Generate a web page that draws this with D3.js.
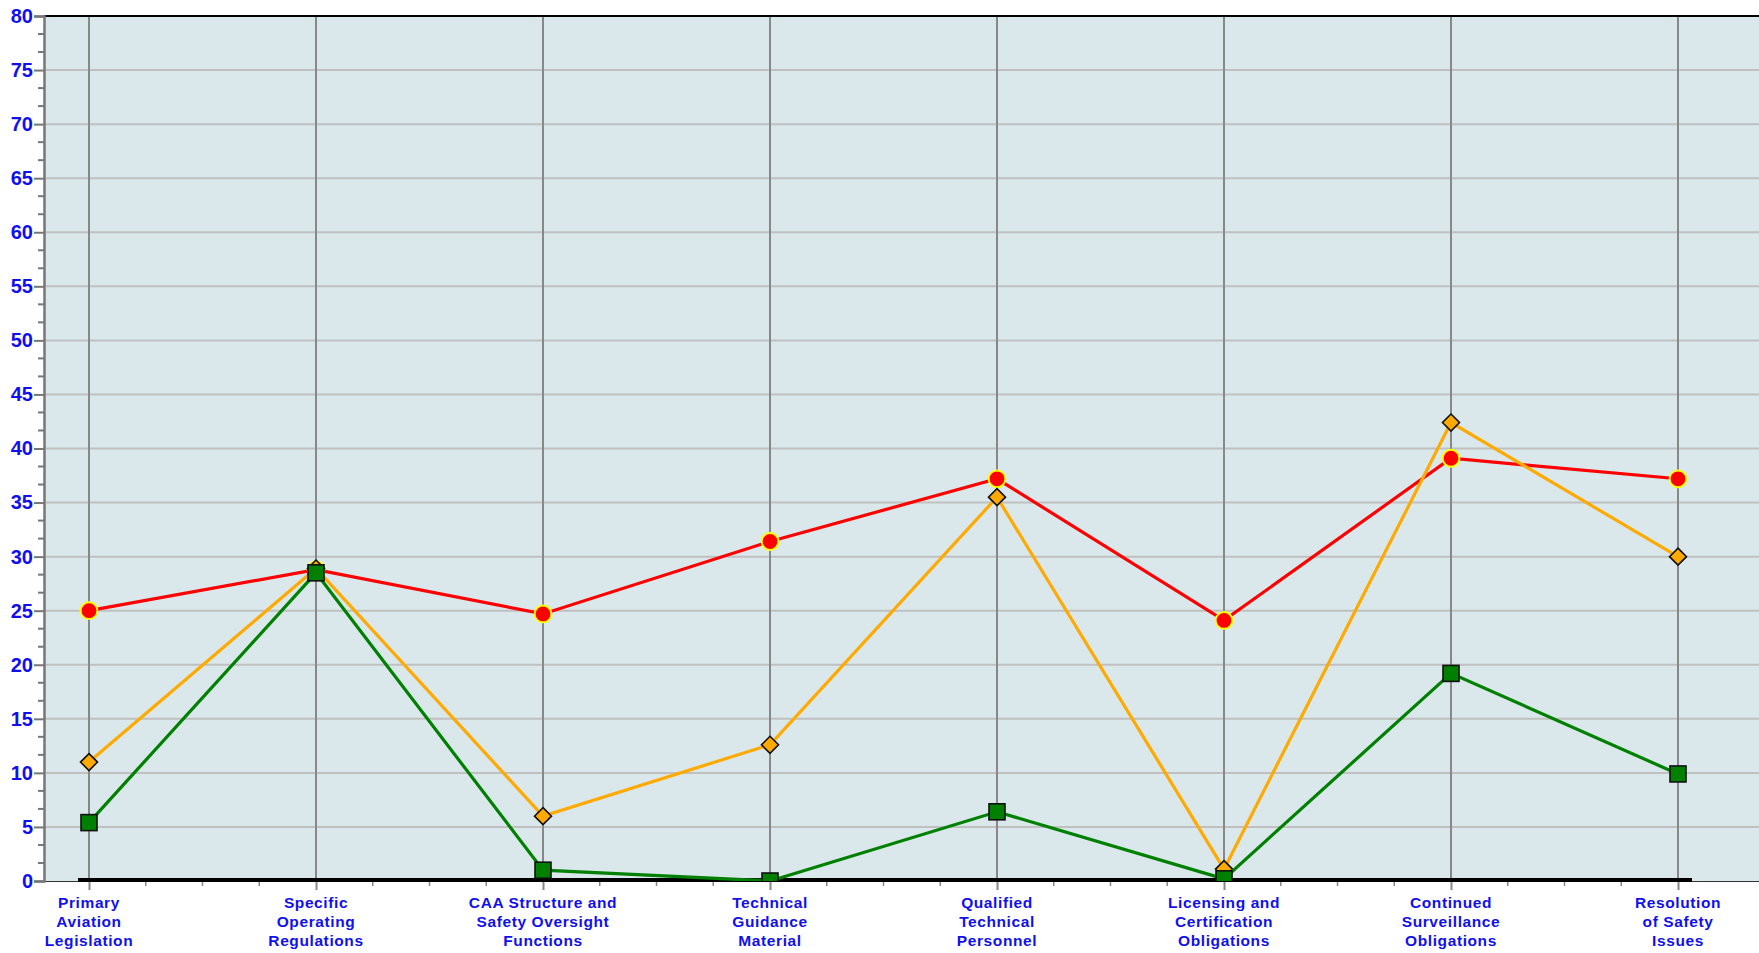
<!DOCTYPE html>
<html>
<head>
<meta charset="utf-8">
<script src="https://cdn.jsdelivr.net/npm/d3@7"></script>
<style>
  body { margin: 0; background: #fff; }
  svg { display: block; font-family: "Liberation Sans", Arial, sans-serif; }
</style>
</head>
<body>
<div id="chart"></div>
<script>
const categories = [
  'Primary\nAviation\nLegislation',
  'Specific\nOperating\nRegulations',
  'CAA Structure and\nSafety Oversight\nFunctions',
  'Technical\nGuidance\nMaterial',
  'Qualified\nTechnical\nPersonnel',
  'Licensing and\nCertification\nObligations',
  'Continued\nSurveillance\nObligations',
  'Resolution\nof Safety\nIssues'
];
const redValues = [25.0, 28.8, 24.7, 31.4, 37.2, 24.1, 39.1, 37.2];
const orangeValues = [11.0, 28.9, 6.0, 12.6, 35.5, 1.1, 42.4, 30.0];
const greenValues = [5.4, 28.5, 1.0, 0.0, 6.4, 0.2, 19.2, 9.9];
const yTicks = d3.range(0, 81, 5);

const width = 1759, height = 953;
const plot = { left: 44, top: 16, right: 1759, bottom: 881 };

const svg = d3.select('#chart').append('svg')
  .attr('width', width)
  .attr('height', height);

const x = d3.scaleLinear().domain([0, categories.length - 1]).range([89, 1678]);
const y = d3.scaleLinear().domain([0, 80]).range([plot.bottom, plot.top]);

svg.append('defs').append('clipPath').attr('id', 'plotclip')
  .append('rect')
  .attr('x', plot.left).attr('y', plot.top)
  .attr('width', plot.right - plot.left).attr('height', plot.bottom - plot.top);

// plot background
svg.append('rect')
  .attr('x', plot.left).attr('y', plot.top)
  .attr('width', plot.right - plot.left).attr('height', plot.bottom - plot.top)
  .attr('fill', '#dae8eb');

// horizontal grid
svg.append('g').selectAll('line')
  .data(yTicks.filter(d => d > 0 && d < 80))
  .enter().append('line')
  .attr('x1', plot.left).attr('x2', plot.right)
  .attr('y1', d => y(d)).attr('y2', d => y(d))
  .attr('stroke', '#c0c0c0').attr('stroke-width', 2);

// vertical grid
svg.append('g').selectAll('line')
  .data(d3.range(categories.length))
  .enter().append('line')
  .attr('x1', d => x(d)).attr('x2', d => x(d))
  .attr('y1', plot.top).attr('y2', plot.bottom)
  .attr('stroke', '#888').attr('stroke-width', 2);

// top border
svg.append('line')
  .attr('x1', plot.left).attr('x2', plot.right)
  .attr('y1', plot.top).attr('y2', plot.top)
  .attr('stroke', '#000').attr('stroke-width', 2);

// bottom thin border
svg.append('line')
  .attr('x1', plot.left).attr('x2', plot.right)
  .attr('y1', plot.bottom + 0.5).attr('y2', plot.bottom + 0.5)
  .attr('stroke', '#333').attr('stroke-width', 1);

// y axis
const yAxis = d3.axisLeft(y)
  .tickValues(yTicks)
  .tickSize(10)
  .tickPadding(1);
const yg = svg.append('g')
  .attr('transform', `translate(${plot.left},0)`)
  .call(yAxis);
yg.select('.domain').attr('stroke', '#777').attr('stroke-width', 2.5);
yg.selectAll('.tick line').attr('stroke', '#777').attr('stroke-width', 2);
yg.selectAll('.tick text')
  .attr('fill', '#1010ee')
  .style('font-size', '20px')
  .style('font-weight', 'bold')
  .style('font-family', '"Liberation Sans", Arial, sans-serif');

// minor y ticks
const yMinor = d3.range(0, 80, 5 / 3).filter((d, i) => i % 3 !== 0);
svg.append('g').selectAll('line')
  .data(yMinor)
  .enter().append('line')
  .attr('x1', plot.left - 6).attr('x2', plot.left)
  .attr('y1', d => y(d)).attr('y2', d => y(d))
  .attr('stroke', '#777').attr('stroke-width', 2);

// x axis ticks (major at categories, minor at quarters)
const xMinor = d3.range(0, (categories.length - 1) * 4 + 1)
  .map(i => i / 4).filter(d => d % 1 !== 0);
svg.append('g').selectAll('line')
  .data(xMinor)
  .enter().append('line')
  .attr('x1', d => x(d)).attr('x2', d => x(d))
  .attr('y1', plot.bottom).attr('y2', plot.bottom + 5)
  .attr('stroke', '#888').attr('stroke-width', 1.5);

const xAxis = d3.axisBottom(x)
  .tickValues(d3.range(categories.length))
  .tickSize(9)
  .tickFormat('');
const xg = svg.append('g')
  .attr('transform', `translate(0,${plot.bottom})`)
  .call(xAxis);
xg.select('.domain').remove();
xg.selectAll('.tick line').attr('stroke', '#888').attr('stroke-width', 2);

// multi-line category labels
const labels = svg.append('g').selectAll('text')
  .data(categories)
  .enter().append('text')
  .attr('text-anchor', 'middle')
  .attr('fill', '#1010ee')
  .style('font-size', '15.5px')
  .style('font-weight', 'bold')
  .style('letter-spacing', '0.6px');
labels.each(function(d, i) {
  d3.select(this).selectAll('tspan')
    .data(d.split('\n'))
    .enter().append('tspan')
    .attr('x', x(i))
    .attr('y', (t, j) => 908 + j * 19)
    .text(t => t);
});

// thick zero line
svg.append('line')
  .attr('x1', x(0) - 11).attr('x2', x(categories.length - 1) + 14)
  .attr('y1', y(0) - 1).attr('y2', y(0) - 1)
  .attr('stroke', '#000').attr('stroke-width', 4);

// series
const series = svg.append('g').attr('clip-path', 'url(#plotclip)');
const line = d3.line().x((d, i) => x(i)).y(d => y(d));

series.append('path')
  .datum(redValues)
  .attr('d', line)
  .attr('fill', 'none').attr('stroke', '#ff0000').attr('stroke-width', 3.2);
series.append('g').selectAll('circle')
  .data(redValues)
  .enter().append('circle')
  .attr('cx', (d, i) => x(i)).attr('cy', d => y(d))
  .attr('r', 8.4)
  .attr('fill', '#ff0000').attr('stroke', '#ffff00').attr('stroke-width', 2);

series.append('path')
  .datum(orangeValues)
  .attr('d', line)
  .attr('fill', 'none').attr('stroke', '#ffaa00').attr('stroke-width', 3.2);
series.append('g').selectAll('path')
  .data(orangeValues)
  .enter().append('path')
  .attr('d', 'M0,-8.5L8.5,0L0,8.5L-8.5,0Z')
  .attr('transform', (d, i) => `translate(${x(i)},${y(d)})`)
  .attr('fill', '#ffaa00').attr('stroke', '#111').attr('stroke-width', 1.6);

series.append('path')
  .datum(greenValues)
  .attr('d', line)
  .attr('fill', 'none').attr('stroke', '#008000').attr('stroke-width', 3.2);
series.append('g').selectAll('rect')
  .data(greenValues)
  .enter().append('rect')
  .attr('x', (d, i) => x(i) - 8).attr('y', d => y(d) - 8)
  .attr('width', 16).attr('height', 16)
  .attr('fill', '#008000').attr('stroke', '#111').attr('stroke-width', 1.6);
</script>
</body>
</html>
